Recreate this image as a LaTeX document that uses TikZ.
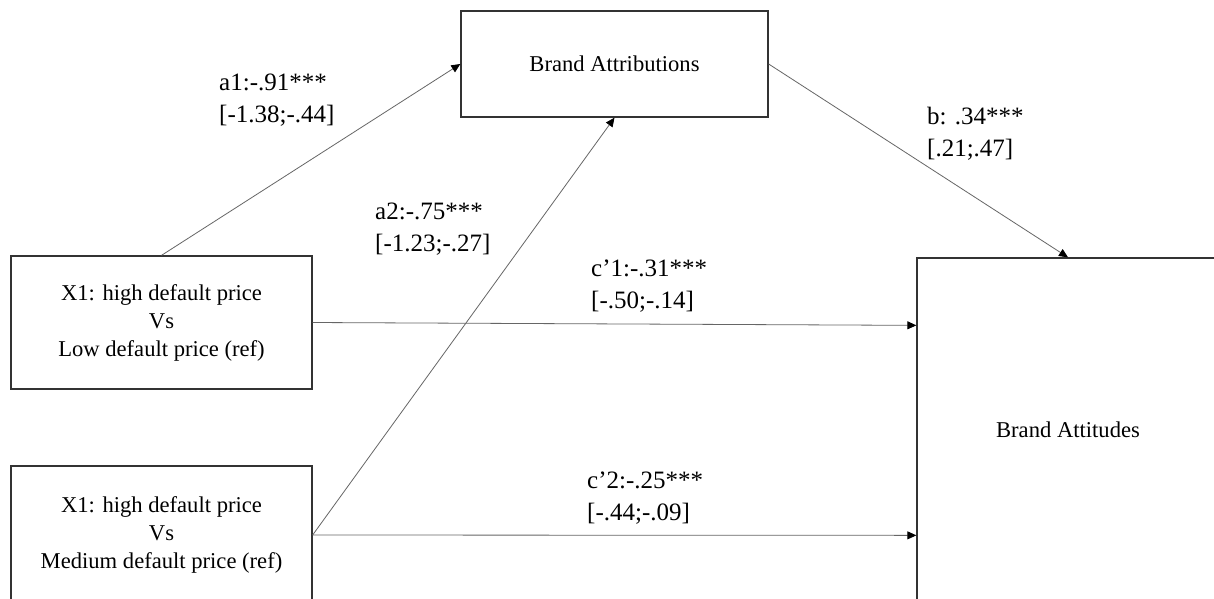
\documentclass[tikz,border=0pt]{standalone}
\usepackage{fontspec}
\setmainfont{Liberation Serif}
\usetikzlibrary{arrows.meta}
\begin{document}
\begin{tikzpicture}[x=1pt,y=-1pt,
  box/.style={draw=black!80,line width=1.3pt,align=center,inner sep=0pt,
    font=\fontsize{22.6}{28}\selectfont},
  lab/.style={anchor=west,align=left,inner sep=0pt,font=\fontsize{25}{32}\selectfont},
  conn/.style={draw=black!60,line width=0.8pt,-{Triangle[length=9pt,width=8pt,fill=black,color=black]}}]
\clip (0,0) rectangle (1214,598);
\fill[white] (0,0) rectangle (1214,598);
\node[box,minimum width=307pt,minimum height=106pt] (ba) at (614.5,64) {Brand Attributions};
\node[box,minimum width=301pt,minimum height=133pt] (x1) at (161.5,322.5) {X1: high default price\\Vs\\Low default price (ref)};
\node[box,minimum width=301pt,minimum height=138pt] (x2) at (161.5,535) {X1: high default price\\Vs\\Medium default price (ref)};
\node[box,minimum width=302pt,minimum height=344pt] (att) at (1068,430) {Brand Attitudes};
\draw[conn] (x1.north) -- (ba.west);
\draw[conn] (x2.east) -- (ba.south);
\draw[conn] (ba.east) -- (att.north);
\draw[conn] (x1.east) -- ([yshift=-68pt]att.north west);
\draw[conn] (x2.east) -- ([yshift=-278pt]att.north west);
\node[lab] (la1) at (219,100) {a1:-.91***\\{}[-1.38;-.44]};
\node[lab] (la2) at (375,229) {a2:-.75***\\{}[-1.23;-.27]};
\node[lab] (lb) at (927,134) {b: .34***\\{}[.21;.47]};
\node[lab] (lc1) at (591,286) {c’1:-.31***\\{}[-.50;-.14]};
\node[lab] (lc2) at (587,498) {c’2:-.25***\\{}[-.44;-.09]};
\end{tikzpicture}
\end{document}
